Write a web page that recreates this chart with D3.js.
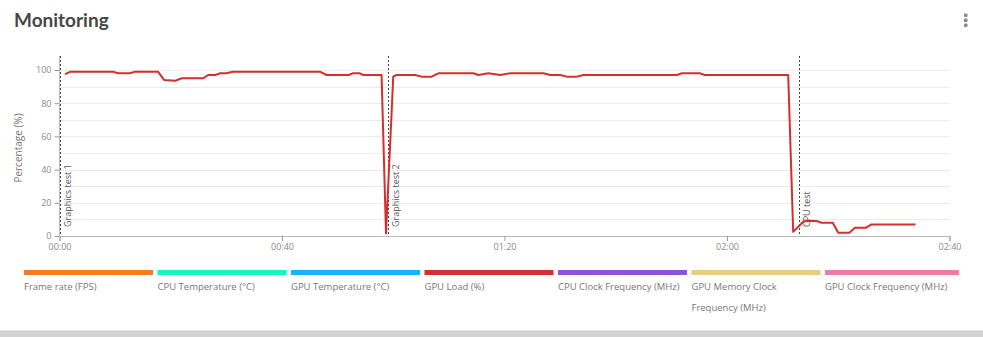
<!DOCTYPE html>
<html>
<head>
<meta charset="utf-8">
<script src="https://cdn.jsdelivr.net/npm/d3@7"></script>
<style>
  body { margin: 0; background: #fff; }
  svg { display: block; font-family: "Open Sans", sans-serif; }
</style>
</head>
<body>
<div id="chart"></div>
<script>
/* DATA */
// GPU load samples, time in seconds
const loadTime = [1, 2, 9.6, 10.5, 12.7, 13.6, 17.7, 18.8, 20.8, 22, 25.8, 26.7, 28, 28.9, 30, 31.2,
  46.8, 48, 52, 52.7, 54, 54.6, 57.9, 58.7, 60, 60.6, 63.9, 65.1, 66.9, 68.1, 74.4, 75.3, 77.1,
  79.2, 81, 87, 88.2, 90, 91.2, 93, 94.2, 111, 111.9, 115.1, 116, 131, 131.9, 133.7, 134.6,
  136.1, 137, 139, 140, 142, 143, 145, 146, 153.9];
const loadValue = [97.5, 99, 99, 98, 98, 99, 99, 94, 93.5, 95, 95, 97, 97, 98, 98, 99,
  99, 97, 97, 98, 98, 97, 97, 1.5, 96, 97, 97, 96, 96, 98, 98, 97, 98,
  97, 98, 98, 97, 97, 96, 96, 97, 97, 98, 98, 97, 97, 2.5, 8.6, 9.2,
  9, 8, 8, 2, 2, 5, 5, 7, 7];

const markerTime = [0, 59, 133];
const markerName = ["Graphics test 1", "Graphics test 2", "CPU test"];

const xTicks = [0, 40, 80, 120, 160];
const yTicks = [0, 20, 40, 60, 80, 100];

const legendNames = ["Frame rate (FPS)", "CPU Temperature (°C)", "GPU Temperature (°C)", "GPU Load (%)",
  "CPU Clock Frequency (MHz)", "GPU Memory Clock Frequency (MHz)", "GPU Clock Frequency (MHz)"];
const legendColors = ["#f47d20", "#15f5bf", "#17b2f7", "#d23131", "#8c55cf", "#e8cd80", "#e87fa3"];

/* LAYOUT */
const width = 983, height = 337;
const plot = { left: 59.5, right: 949.5, top: 56, bottom: 236 };

const svg = d3.select("#chart").append("svg")
  .attr("width", width)
  .attr("height", height);

// card bottom / page background
svg.append("rect").attr("x", 0).attr("y", 331).attr("width", width).attr("height", 6).attr("fill", "#d2d2d2");
svg.append("rect").attr("x", 0).attr("y", 330).attr("width", width).attr("height", 1).attr("fill", "#e6e6e6");

// title
svg.append("text")
  .attr("x", 14).attr("y", 27)
  .attr("font-family", "Lato, sans-serif")
  .attr("font-weight", 700)
  .attr("font-size", 19)
  .attr("fill", "#474747")
  .text("Monitoring");

// kebab menu
svg.selectAll("rect.dot")
  .data([15, 20, 25])
  .join("rect")
  .attr("class", "dot")
  .attr("x", 964).attr("y", d => d - 1.5)
  .attr("width", 3.5).attr("height", 3.5)
  .attr("rx", 1)
  .attr("fill", "#888");

/* SCALES */
const xScale = d3.scaleLinear().domain([0, 160]).range([plot.left, plot.right]);
const yScale = d3.scaleLinear().domain([0, 100]).range([plot.bottom, 70]);

// grid
svg.append("g")
  .selectAll("line")
  .data(d3.range(10, 101, 10))
  .join("line")
  .attr("x1", plot.left).attr("x2", plot.right)
  .attr("y1", d => Math.round(yScale(d)) + 0.5)
  .attr("y2", d => Math.round(yScale(d)) + 0.5)
  .attr("stroke", "#ebebeb");

// axes
const xAxis = d3.axisBottom(xScale)
  .tickValues(xTicks)
  .tickSize(5)
  .tickPadding(3)
  .tickFormat(d => d3.format("02")(Math.floor(d / 60)) + ":" + d3.format("02")(d % 60));

const gx = svg.append("g")
  .attr("transform", `translate(0,${plot.bottom})`)
  .call(xAxis);
gx.select(".domain").attr("stroke", "#bbb");
gx.selectAll(".tick line").attr("stroke", "#999");
gx.selectAll(".tick text").attr("fill", "#888").attr("font-size", 9).attr("font-family", "Open Sans, sans-serif");

const yAxis = d3.axisLeft(yScale)
  .tickValues(yTicks)
  .tickSize(5)
  .tickPadding(3);

const gy = svg.append("g")
  .attr("transform", `translate(${plot.left},0)`)
  .call(yAxis);
gy.select(".domain").remove();
gy.append("line").attr("y1", plot.top).attr("y2", plot.bottom).attr("stroke", "#bbb");
gy.selectAll(".tick line").attr("stroke", "#999");
gy.selectAll(".tick text").attr("fill", "#888").attr("font-size", 9).attr("font-family", "Open Sans, sans-serif");

svg.append("text")
  .attr("transform", `translate(22,${(plot.top + plot.bottom) / 2 + 2}) rotate(-90)`)
  .attr("text-anchor", "middle")
  .attr("font-size", 10)
  .attr("fill", "#777")
  .text("Percentage (%)");

// markers
const markers = svg.append("g")
  .selectAll("g")
  .data(markerTime.map((t, i) => ({ t, name: markerName[i] })))
  .join("g")
  .attr("transform", d => `translate(${Math.round(xScale(d.t)) + 0.5},0)`);

markers.append("line")
  .attr("y1", plot.top).attr("y2", plot.bottom)
  .attr("stroke", "#444")
  .attr("stroke-dasharray", "2,2");

markers.append("text")
  .attr("transform", `translate(10.5,${plot.bottom - 9}) rotate(-90)`)
  .attr("font-size", 9)
  .attr("fill", "#555")
  .text(d => d.name);

// GPU load line
const line = d3.line()
  .x((d, i) => xScale(loadTime[i]))
  .y(d => yScale(d));

svg.append("path")
  .datum(loadValue)
  .attr("fill", "none")
  .attr("stroke", "#d32f2f")
  .attr("stroke-width", 2)
  .attr("stroke-linejoin", "round")
  .attr("d", line);

/* LEGEND */
const legend = svg.append("g")
  .selectAll("g")
  .data(legendNames)
  .join("g")
  .attr("transform", (d, i) => `translate(${24 + i * 133.5},0)`);

// the last item stretches to the card edge
legend.append("rect")
  .attr("y", 270)
  .attr("width", (d, i) => i === legendNames.length - 1 ? 959 - (24 + i * 133.5) : 129)
  .attr("height", 5)
  .attr("fill", (d, i) => legendColors[i]);

legend.append("text")
  .attr("y", 289.5)
  .attr("font-size", 9.5)
  .attr("fill", "#777")
  .each(function (d) {
    // wrap text into the bar width
    const t = d3.select(this);
    const words = d.split(" ");
    let lineWords = [];
    let tspan = t.append("tspan").attr("x", 0).attr("dy", 0);
    words.forEach(w => {
      lineWords.push(w);
      tspan.text(lineWords.join(" "));
      if (tspan.node().getComputedTextLength() > 129 && lineWords.length > 1) {
        lineWords.pop();
        tspan.text(lineWords.join(" "));
        lineWords = [w];
        tspan = t.append("tspan").attr("x", 0).attr("dy", 21).text(w);
      }
    });
  });
</script>
</body>
</html>
